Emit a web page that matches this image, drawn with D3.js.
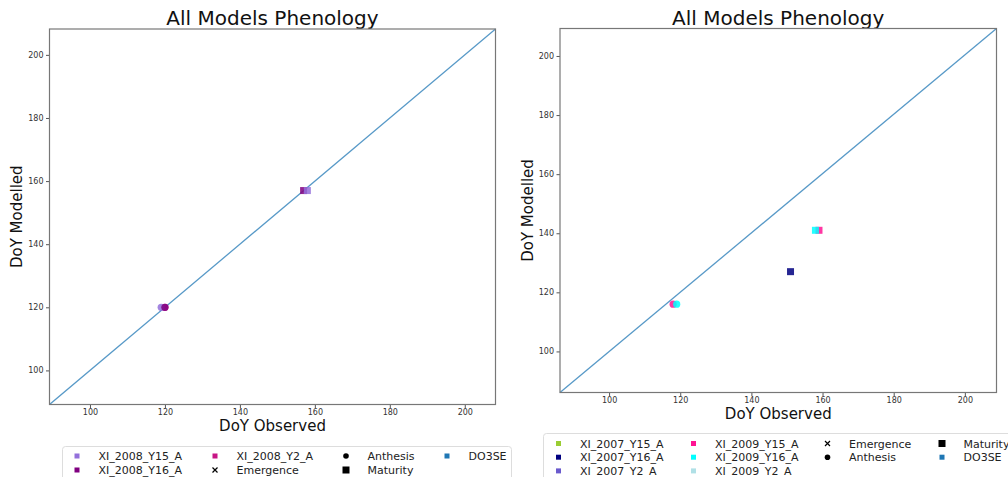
<!DOCTYPE html>
<html>
<head>
<meta charset="utf-8">
<script src="https://d3js.org/d3.v7.min.js"></script>
<style>
  body { margin: 0; background: #fff; }
  svg { font-family: "DejaVu Sans", sans-serif; }
</style>
</head>
<body>
<svg width="1008" height="477"></svg>
<script>

// ---- left panel (2008) ----
var leftSeries = ["XI_2008_Y15_A", "XI_2008_Y16_A", "XI_2008_Y2_A"];
var leftColors = ["#9370db", "#800080", "#c71585"];
// [series index, stage, observed, modelled]
var leftPoints = [
  [2, "Anthesis", 120, 120],
  [0, "Anthesis", 119, 120],
  [1, "Anthesis", 120, 120],
  [1, "Maturity", 157, 157],
  [0, "Maturity", 158, 157]
];
var leftDomain = [89.2, 208.2];

// ---- right panel (2007 / 2009) ----
var rightSeries = ["XI_2007_Y15_A", "XI_2007_Y16_A", "XI_2007_Y2_A",
                   "XI_2009_Y15_A", "XI_2009_Y16_A", "XI_2009_Y2_A"];
var rightColors = ["#9acd32", "#000080", "#6a5acd", "#ff1493", "#00ffff", "#b0e0e6"];
var rightPoints = [
  [3, "Anthesis", 118, 116],
  [4, "Anthesis", 119, 116],
  [1, "Maturity", 151, 127],
  [3, "Maturity", 159, 141],
  [4, "Maturity", 158, 141]
];
var rightDomainX = [86.2, 208.9];
var rightDomainY = [86.1, 209.3];

var stages = ["Emergence", "Anthesis", "Maturity"];
var modelName = "DO3SE";
var modelColor = "#1f77b4";
var ticks = [100, 120, 140, 160, 180, 200];

var svg = d3.select("svg");

function drawPanel(cfg) {
  var g = svg.append("g");
  var x = d3.scaleLinear().domain(cfg.dx).range([cfg.left, cfg.right]);
  var y = d3.scaleLinear().domain(cfg.dy).range([cfg.bottom, cfg.top]);

  g.append("text")
    .attr("x", (cfg.left + cfg.right) / 2).attr("y", 25)
    .attr("text-anchor", "middle").attr("font-size", 20).attr("fill", "#111")
    .text("All Models Phenology");

  // 1:1 line
  g.append("line")
    .attr("x1", x(cfg.dx[0])).attr("y1", y(cfg.dy[0]))
    .attr("x2", x(cfg.dx[1])).attr("y2", y(cfg.dy[1]))
    .attr("stroke", modelColor).attr("stroke-opacity", 0.75).attr("stroke-width", 1.3);

  // points
  cfg.points.forEach(function(p) {
    var c = cfg.colors[p[0]];
    if (p[1] === "Anthesis") {
      g.append("circle").attr("cx", x(p[2])).attr("cy", y(p[3])).attr("r", 3.6)
        .attr("fill", c).attr("fill-opacity", 0.85);
    } else if (p[1] === "Maturity") {
      g.append("rect").attr("x", x(p[2]) - 3.5).attr("y", y(p[3]) - 3.5)
        .attr("width", 7).attr("height", 7).attr("fill", c).attr("fill-opacity", 0.85);
    }
  });

  var xa = g.append("g").attr("transform", "translate(0," + cfg.bottom + ")")
    .call(d3.axisBottom(x).tickValues(ticks).tickSize(3.5).tickPadding(1.5).tickSizeOuter(0));
  var ya = g.append("g").attr("transform", "translate(" + cfg.left + ",0)")
    .call(d3.axisLeft(y).tickValues(ticks).tickSize(3.5).tickPadding(2.5).tickSizeOuter(0));
  [xa, ya].forEach(function(a) {
    a.select(".domain").remove();
    a.selectAll("text").attr("font-size", 8).attr("fill", "#333").attr("font-family", "DejaVu Sans");
    a.selectAll("line").attr("stroke", "#555");
  });

  g.append("rect")
    .attr("x", cfg.left).attr("y", cfg.top)
    .attr("width", cfg.right - cfg.left).attr("height", cfg.bottom - cfg.top)
    .attr("fill", "none").attr("stroke", "#777").attr("stroke-width", 1.2);

  g.append("text")
    .attr("x", (cfg.left + cfg.right) / 2).attr("y", cfg.bottom + 26)
    .attr("text-anchor", "middle").attr("font-size", 15).attr("fill", "#111")
    .text("DoY Observed");
  g.append("text")
    .attr("transform", "translate(" + (cfg.left - 27.5) + "," + ((cfg.top + cfg.bottom) / 2) + ") rotate(-90)")
    .attr("text-anchor", "middle").attr("font-size", 15).attr("fill", "#111")
    .text("DoY Modelled");

  // legend (column-major, like matplotlib ncol=4)
  var items = cfg.series.map(function(s, i) { return { label: s, kind: "sq", color: cfg.colors[i] }; });
  stages.forEach(function(s) { items.push({ label: s, kind: s, color: "#000" }); });
  items.push({ label: modelName, kind: "sq", color: modelColor });
  var ncol = 4;
  var perCol = [];
  for (var c = 0; c < ncol; c++) perCol.push(Math.floor(items.length / ncol) + (c < items.length % ncol ? 1 : 0));

  var lg = g.append("g");
  lg.append("rect")
    .attr("x", cfg.legX).attr("y", cfg.legY).attr("width", cfg.legW).attr("height", 60)
    .attr("rx", 3).attr("fill", "#fff").attr("stroke", "#ddd");
  var k = 0;
  for (var c2 = 0; c2 < ncol; c2++) {
    for (var r = 0; r < perCol[c2]; r++) {
      var it = items[k++];
      var mx = cfg.colX[c2], my = cfg.rowY0 + r * cfg.rowH;
      if (it.kind === "sq") {
        lg.append("rect").attr("x", mx - 2.5).attr("y", my - 2.5).attr("width", 5).attr("height", 5)
          .attr("fill", it.color);
      } else if (it.kind === "Emergence") {
        lg.append("path").attr("d", "M" + (mx - 2.5) + "," + (my - 2.5) + "l5,5M" + (mx + 2.5) + "," + (my - 2.5) + "l-5,5")
          .attr("stroke", "#000").attr("stroke-width", 1.2);
      } else if (it.kind === "Anthesis") {
        lg.append("circle").attr("cx", mx).attr("cy", my).attr("r", 2.8).attr("fill", "#000");
      } else {
        lg.append("rect").attr("x", mx - 3.5).attr("y", my - 3.5).attr("width", 7).attr("height", 7).attr("fill", "#000");
      }
      lg.append("text").attr("x", mx + 21.5).attr("y", my + 4).attr("font-size", 11).attr("fill", "#222")
        .text(it.label);
    }
  }
}

drawPanel({
  left: 49.5, right: 495.5, top: 29, bottom: 404.5,
  dx: leftDomain, dy: leftDomain,
  series: leftSeries, colors: leftColors, points: leftPoints,
  legX: 62.5, legY: 446.5, legW: 449,
  colX: [77, 215, 346, 447], rowY0: 456, rowH: 14
});

drawPanel({
  left: 560, right: 996.5, top: 28.5, bottom: 392.5,
  dx: rightDomainX, dy: rightDomainY,
  series: rightSeries, colors: rightColors, points: rightPoints,
  legX: 543.5, legY: 433.5, legW: 470,
  colX: [558.5, 693.5, 827.5, 942], rowY0: 443.5, rowH: 13.7
});

</script>
</body>
</html>
